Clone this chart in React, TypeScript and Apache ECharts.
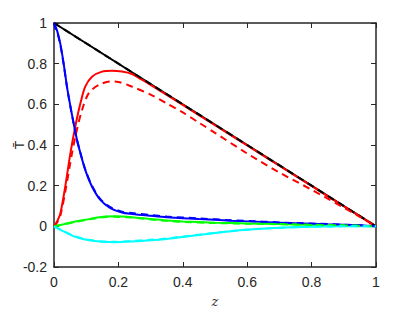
import React, { useEffect, useRef } from "react";
import * as echarts from "echarts";

const xTicks = [0, 0.2, 0.4, 0.6, 0.8, 1];
const yTicks = [-0.2, 0, 0.2, 0.4, 0.6, 0.8, 1];

const blackSolid: number[][] = [[0, 1], [1, 0]];
const blackDashed: number[][] = [[0, 1], [1, 0]];

const redSolid: number[][] = [
  [0, 0], [0.01, 0.025], [0.02, 0.065], [0.035, 0.196], [0.051, 0.36], [0.066, 0.49],
  [0.082, 0.605], [0.097, 0.687], [0.118, 0.736], [0.149, 0.761], [0.18, 0.765],
  [0.211, 0.761], [0.242, 0.749], [0.27, 0.724], [0.3, 0.696], [0.4, 0.597],
  [0.5, 0.497], [0.6, 0.398], [0.7, 0.298], [0.8, 0.199], [0.9, 0.099], [1, 0],
];
const redDashed: number[][] = [
  [0, 0], [0.01, 0.02], [0.02, 0.055], [0.035, 0.17], [0.056, 0.36], [0.071, 0.474],
  [0.087, 0.572], [0.108, 0.655], [0.139, 0.695], [0.175, 0.712], [0.2, 0.71],
  [0.242, 0.687], [0.3, 0.648], [0.35, 0.605], [0.4, 0.56], [0.45, 0.51], [0.5, 0.46],
  [0.6, 0.358], [0.7, 0.265], [0.8, 0.18], [0.9, 0.092], [0.95, 0.047], [1, 0],
];
const blueSolid: number[][] = [
  [0, 1], [0.01, 0.96], [0.02, 0.895], [0.03, 0.8], [0.04, 0.69], [0.051, 0.59],
  [0.061, 0.507], [0.071, 0.428], [0.082, 0.36], [0.097, 0.278], [0.118, 0.196],
  [0.144, 0.13], [0.175, 0.09], [0.211, 0.068], [0.242, 0.061], [0.3, 0.052],
  [0.35, 0.045], [0.45, 0.036], [0.55, 0.028], [0.65, 0.021], [0.75, 0.015],
  [0.85, 0.01], [0.95, 0.005], [1, 0],
];
const blueDashed: number[][] = [
  [0, 1], [0.005, 0.97], [0.01, 0.955], [0.02, 0.89], [0.03, 0.797], [0.04, 0.688],
  [0.051, 0.588], [0.061, 0.506], [0.071, 0.428], [0.082, 0.361], [0.097, 0.28],
  [0.118, 0.199], [0.144, 0.134], [0.175, 0.094], [0.211, 0.072], [0.242, 0.065],
  [0.3, 0.056], [0.35, 0.048], [0.45, 0.039], [0.55, 0.03], [0.65, 0.023],
  [0.75, 0.016], [0.85, 0.011], [0.95, 0.005], [1, 0],
];
const greenSolid: number[][] = [
  [0, 0], [0.03, 0.01], [0.06, 0.021], [0.097, 0.032], [0.13, 0.042], [0.16, 0.048],
  [0.19, 0.049], [0.242, 0.045], [0.3, 0.036], [0.35, 0.029], [0.4, 0.024],
  [0.5, 0.018], [0.6, 0.014], [0.7, 0.011], [0.8, 0.008], [0.9, 0.005], [1, 0],
];
const greenDashed: number[][] = [
  [0, 0], [0.03, 0.009], [0.06, 0.02], [0.097, 0.03], [0.13, 0.04], [0.16, 0.046],
  [0.19, 0.047], [0.242, 0.043], [0.3, 0.034], [0.35, 0.027], [0.4, 0.022],
  [0.5, 0.016], [0.6, 0.013], [0.7, 0.01], [0.8, 0.007], [0.9, 0.004], [1, 0],
];
const cyanSolid: number[][] = [
  [0, 0], [0.03, -0.025], [0.06, -0.048], [0.09, -0.062], [0.12, -0.071], [0.15, -0.076],
  [0.19, -0.078], [0.236, -0.075], [0.3, -0.068], [0.35, -0.062], [0.4, -0.052],
  [0.5, -0.033], [0.55, -0.024], [0.6, -0.017], [0.7, -0.007], [0.8, -0.002],
  [0.9, 0], [1, 0],
];
const cyanDashed: number[][] = [
  [0, 0], [0.03, -0.024], [0.06, -0.046], [0.09, -0.06], [0.12, -0.069], [0.15, -0.074],
  [0.19, -0.076], [0.236, -0.073], [0.3, -0.066], [0.35, -0.06], [0.4, -0.05],
  [0.5, -0.032], [0.55, -0.023], [0.6, -0.016], [0.7, -0.007], [0.8, -0.002],
  [0.9, 0], [1, 0],
];

const AX = "#262626";
const FONT = "'Liberation Sans', Arial, Helvetica, sans-serif";

function line(data: number[][], color: string, dashed: boolean, smooth = true) {
  return {
    type: "line",
    data,
    smooth: smooth ? 0.3 : false,
    showSymbol: false,
    symbol: "none",
    lineStyle: { color, width: 2, type: dashed ? [7, 5] : "solid" },
    xAxisIndex: 0,
    yAxisIndex: 0,
    z: dashed ? 3 : 2,
  };
}

export default function App() {
  const ref = useRef<HTMLDivElement>(null);
  useEffect(() => {
    if (!ref.current) return;
    const chart = echarts.init(ref.current, null, { renderer: "svg" });
    const baseX = {
      type: "value",
      min: xTicks[0],
      max: xTicks[xTicks.length - 1],
      interval: 0.2,
      axisLine: { show: true, onZero: false, lineStyle: { color: AX, width: 1.5 } },
      axisTick: { show: true, inside: true, length: 5, lineStyle: { color: AX, width: 1 } },
      splitLine: { show: false },
    };
    const baseY = {
      type: "value",
      min: yTicks[0],
      max: yTicks[yTicks.length - 1],
      interval: 0.2,
      axisLine: { show: true, onZero: false, lineStyle: { color: AX, width: 1.5 } },
      axisTick: { show: true, inside: true, length: 5, lineStyle: { color: AX, width: 1 } },
      splitLine: { show: false },
    };
    chart.setOption({
      animation: false,
      backgroundColor: "#ffffff",
      grid: { left: 54, right: 39, top: 23, bottom: 45, containLabel: false, outerBoundsMode: "none" },
      xAxis: [
        {
          ...baseX,
          position: "bottom",
          axisLabel: { color: AX, fontSize: 14, fontFamily: FONT, margin: 8 },
          name: "z",
          nameLocation: "middle",
          nameGap: 28,
          nameTextStyle: { color: AX, fontSize: 13, fontStyle: "italic", fontFamily: "'DejaVu Serif', serif" },
        },
        { ...baseX, position: "top", axisLabel: { show: false } },
      ],
      yAxis: [
        {
          ...baseY,
          position: "left",
          axisLabel: { color: AX, fontSize: 14, fontFamily: FONT, margin: 7 },
          name: "T\u0304",
          nameLocation: "middle",
          nameGap: 28,
          nameMoveOverlap: false,
          nameTextStyle: { color: AX, fontSize: 13, fontFamily: "'DejaVu Sans', sans-serif" },
        },
        { ...baseY, position: "right", axisLabel: { show: false } },
      ],
      series: [
        line(blackSolid, "#000000", false, false),
        line(redSolid, "#ff0000", false),
        line(blueSolid, "#0000ff", false),
        line(greenSolid, "#00ff00", false),
        line(cyanSolid, "#00ffff", false),
        line(blackDashed, "#000000", true, false),
        line(redDashed, "#ff0000", true),
        line(blueDashed, "#0000ff", true),
        line(greenDashed, "#00ff00", true),
        line(cyanDashed, "#00ffff", true),
      ],
    });
    return () => chart.dispose();
  }, []);
  return (
    <div
      ref={ref}
      style={{ position: "fixed", left: 0, top: 0, width: 415, height: 312, background: "#fff" }}
    />
  );
}
